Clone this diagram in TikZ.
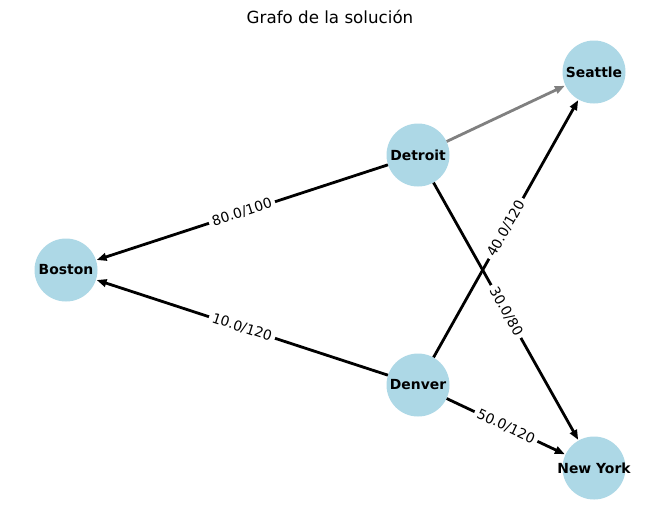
\documentclass[tikz,border=0pt]{standalone}
\usepackage{fontspec}
\setmainfont{DejaVu Sans}
\usetikzlibrary{arrows.meta}
\definecolor{nodeblue}{HTML}{ADD8E6}
\definecolor{edgegray}{HTML}{808080}
\newcommand{\ztext}[1]{\makebox[0pt]{#1}}
\begin{document}
\begin{tikzpicture}[x=1pt,y=-1pt,
  city/.style={circle,fill=nodeblue,draw=none,minimum size=63pt,inner sep=0pt,font=\fontsize{13.9}{16}\selectfont\bfseries},
  flow/.style={line width=2.8pt,-{Triangle[length=10pt,width=7.5pt]},shorten >=0.5pt},
  lbl/.style={midway,sloped,fill=white,inner sep=3.5pt,font=\fontsize{13.9}{16}\selectfont}]
\useasboundingbox[fill=white] (0,0) rectangle (660,520);
\node[font=\fontsize{16.7}{20}\selectfont] (title) at (330,17) {Grafo de la solución};
\node[city] (sea) at (594,72) {\ztext{Seattle}};
\node[city] (det) at (418,155) {\ztext{Detroit}};
\node[city] (bos) at (66,270) {\ztext{Boston}};
\node[city] (den) at (418,385) {\ztext{Denver}};
\node[city] (ny) at (594,468) {\ztext{New York}};
\draw[flow,draw=edgegray,fill=edgegray] (det) -- (sea);
\draw[flow] (det) -- (bos) node[lbl] {80.0/100};
\draw[flow] (det) -- (ny) node[lbl] {30.0/80};
\draw[flow] (den) -- (bos) node[lbl] {10.0/120};
\draw[flow] (den) -- (sea) node[lbl] {40.0/120};
\draw[flow] (den) -- (ny) node[lbl] {50.0/120};
\end{tikzpicture}
\end{document}
